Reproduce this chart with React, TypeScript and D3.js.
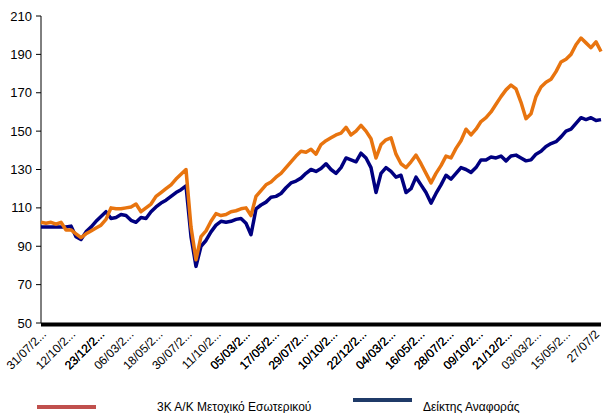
import React, { useEffect, useRef } from 'react';
import * as d3 from 'd3';

const fundValues = [
    102.5, 102, 102.5, 101.5, 102.5, 98.5, 98.5, 96.5, 94.5, 96.5,
    98, 99.5, 101, 104, 110, 109.5, 109.5, 110, 110.5, 112,
    108, 110, 112, 116, 118, 120, 122, 125, 127.5, 130,
    100, 83, 95, 98, 103, 107, 106, 106.5, 108, 108.5,
    109.5, 110, 106, 116, 119, 122, 123.5, 126, 128, 131,
    134, 137, 139.5, 139, 140.5, 138, 143, 145, 146.5, 148,
    149, 152, 148, 150, 153, 150, 146, 136, 143, 145.5,
    146.5, 138, 133, 131, 134, 137.5, 133, 128, 123, 128,
    132, 137, 136, 141, 145, 151, 148, 151, 155, 157,
    160, 164, 168, 171.5, 174, 172, 165, 156.5, 159, 168,
    173, 175.5, 177, 181, 186, 187.5, 190, 195, 198.5, 196,
    193.5, 196.5, 191.5,
];

const benchmarkValues = [
    100, 100, 100, 100, 100, 100, 100.5, 95, 93.5, 97.5,
    100, 103, 105.5, 108, 104.5, 105, 106.5, 106, 103.5, 102.5,
    105, 104.5, 108, 110.5, 112.5, 114, 116, 118, 119.5, 121.5,
    95, 79.5, 90, 93, 97.5, 101, 103, 102.5, 103, 104,
    104.5, 102, 96, 109.5, 111.5, 113, 115.5, 116, 117.5, 120.5,
    123, 124, 125.5, 128, 130, 129, 130.5, 133, 130, 128,
    131, 136, 135, 134, 138.5, 136, 131, 118, 128, 131,
    129, 126, 127, 118, 120, 126, 122, 118, 112.5, 117.5,
    122, 127, 125, 128, 131, 130, 128.5, 131, 135, 135,
    136.5, 136, 137, 134.5, 137, 137.5, 136, 134.5, 135, 138,
    139.5, 142, 143.5, 144.5, 147, 150, 151, 154, 157, 156,
    157, 155.5, 156,
];

const dateLabels = [
    '31/07/2...', '12/10/2...', '23/12/2...', '06/03/2...', '18/05/2...',
    '30/07/2...', '11/10/2...', '23/12/2...', '05/03/2...', '17/05/2...',
    '29/07/2...', '10/10/2...', '22/12/2...', '05/03/2...', '17/05/2...',
    '29/07/2...', '10/10/2...', '22/12/2...', '04/03/2...', '16/05/2...',
    '28/07/2...', '09/10/2...', '21/12/2...', '04/03/2...', '16/05/2...',
    '28/07/2...', '09/10/2...', '21/12/2...', '03/03/2...', '15/05/2...',
    '27/07/2',
];

const yTicks = [50, 70, 90, 110, 130, 150, 170, 190, 210];

const seriesNames = ['3Κ Α/Κ Μετοχικό Εσωτερικού', 'Δείκτης Αναφοράς'];

const W = 603;
const H = 413;
const left = 41;
const right = 601;
const top = 16;
const bottom = 323;
const font = '"Liberation Sans", Arial, sans-serif';

function Chart() {
    const ref = useRef<SVGSVGElement | null>(null);

    useEffect(() => {
        const svg = d3.select(ref.current);
        svg.selectAll('*').remove();

        const x = d3.scaleLinear().domain([0, fundValues.length - 1]).range([left, right]);
        const y = d3.scaleLinear().domain([50, 210]).range([bottom, top]);
        const xLab = d3.scalePoint<string>().domain(dateLabels).range([left - 1, right - 8]);

        // y axis
        svg.append('line')
            .attr('x1', left).attr('x2', left)
            .attr('y1', top).attr('y2', bottom)
            .attr('stroke', '#000').attr('stroke-width', 1);

        const yt = svg.append('g').selectAll('g').data(yTicks).enter().append('g');
        yt.append('line')
            .attr('x1', left - 5).attr('x2', left)
            .attr('y1', d => y(d)).attr('y2', d => y(d))
            .attr('stroke', '#000');
        yt.append('text')
            .attr('x', left - 9)
            .attr('y', d => y(d))
            .attr('dy', '0.35em')
            .attr('text-anchor', 'end')
            .attr('font-family', font)
            .attr('font-size', 13)
            .text(d => d);

        // thick category axis (dense tick marks)
        svg.append('line')
            .attr('x1', left).attr('x2', right)
            .attr('y1', bottom + 1.5).attr('y2', bottom + 1.5)
            .attr('stroke', '#000').attr('stroke-width', 4);

        svg.append('g').selectAll('text').data(dateLabels).enter().append('text')
            .attr('transform', d => `translate(${xLab(d)! + 4},${bottom + 9}) rotate(-45)`)
            .attr('text-anchor', 'end')
            .attr('dy', '0.35em')
            .attr('font-family', font)
            .attr('font-size', 12)
            .attr('text-rendering', 'geometricPrecision')
            .text(d => d);

        const line = d3.line<number>()
            .x((d, i) => x(i))
            .y(d => y(d));

        svg.append('path')
            .datum(benchmarkValues)
            .attr('d', line)
            .attr('fill', 'none')
            .attr('stroke', '#000080')
            .attr('stroke-width', 3.5)
            .attr('stroke-linejoin', 'round');

        svg.append('path')
            .datum(fundValues)
            .attr('d', line)
            .attr('fill', 'none')
            .attr('stroke', '#E8740F')
            .attr('stroke-width', 3.5)
            .attr('stroke-linejoin', 'round');

        // legend
        const legend = [
            { name: seriesNames[0], color: '#C0504D', lx: 37, ly: 407, tx: 157 },
            { name: seriesNames[1], color: '#1F3A68', lx: 353, ly: 400, tx: 423 },
        ];
        const lg = svg.append('g').selectAll('g').data(legend).enter().append('g');
        lg.append('line')
            .attr('x1', d => d.lx).attr('x2', d => d.lx + 59)
            .attr('y1', d => d.ly).attr('y2', d => d.ly)
            .attr('stroke', d => d.color).attr('stroke-width', 4);
        lg.append('text')
            .attr('x', d => d.tx).attr('y', 407)
            .attr('dy', '0.35em')
            .attr('font-family', font)
            .attr('font-size', 12)
            .text(d => d.name);
    }, []);

    return (
        <svg
            ref={ref}
            width={W}
            height={H}
            style={{ position: 'absolute', left: 0, top: 0, background: '#fff' }}
        />
    );
}

export default function App() {
    return <Chart />;
}
